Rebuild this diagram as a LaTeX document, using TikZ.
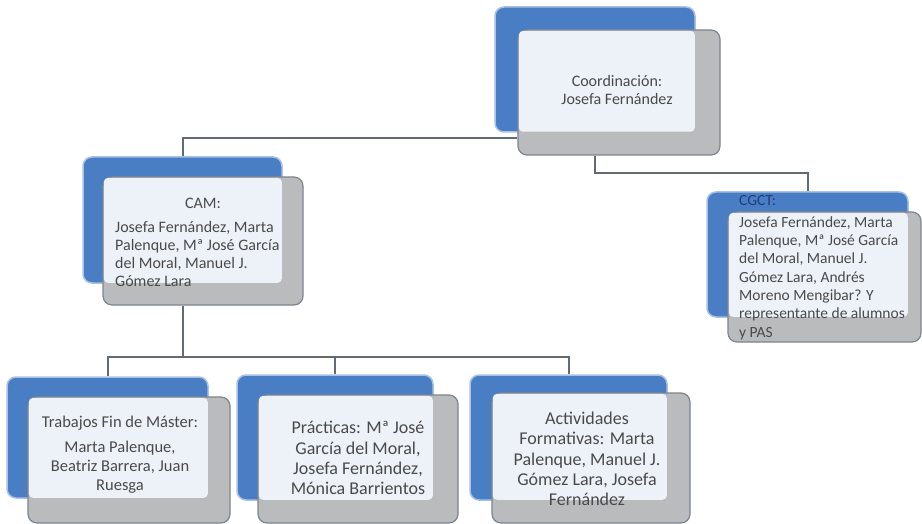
\documentclass[tikz,border=0pt]{standalone}
\usepackage{fontspec}
\setmainfont{Carlito}
\usetikzlibrary{fit}
\definecolor{unitblue}{HTML}{4A7EC4}
\definecolor{bluerim}{HTML}{A9C1E6}
\definecolor{unitgray}{HTML}{BABBBD}
\definecolor{grayrim}{HTML}{7D8590}
\definecolor{unitlight}{HTML}{EDF1F8}
\definecolor{conncol}{HTML}{646A72}
\definecolor{txtcol}{HTML}{4A4A4A}
\definecolor{titleblue}{HTML}{1F3D7A}
\newcommand\orgunit[9]{%
  \node[fit={(#2,#3) (#4,#5)}, inner sep=0pt, bluebox] (#1B) {};
  \node[fit={(#6,#7) (#8,#9)}, inner sep=0pt, graybox] (#1G) {};
  \fill[unitlight, rounded corners=4pt] ([shift={(1.5,1.5)}]#1G.north west) rectangle ([shift={(-1,-1)}]#1B.south east);
}
\begin{document}
\begin{tikzpicture}[x=1pt, y=-1pt,
  bluebox/.style={fill=unitblue, draw=bluerim, line width=1.5pt, rounded corners=9pt},
  graybox/.style={fill=unitgray, draw=grayrim, line width=1.2pt, rounded corners=9pt},
  conn/.style={draw=conncol, line width=2pt},
  txt/.style={text=txtcol, inner sep=0pt},
  f16/.style={font=\fontsize{16}{18}\selectfont},
  f155/.style={font=\fontsize{15.5}{18.3}\selectfont},
  f165/.style={font=\fontsize{16.5}{19}\selectfont},
  f18/.style={font=\fontsize{18}{20.3}\selectfont}]
\useasboundingbox[fill=white] (0,0) rectangle (922,524);

\path (0,138) coordinate (hA) (0,173) coordinate (hB) (0,357) coordinate (hC);

\orgunit{top}{495}{7}{695}{132}{518}{30}{720}{155}
\orgunit{cam}{83}{157}{282}{283}{103}{177}{303}{305}
\orgunit{cg}{707}{192}{908}{317}{728}{212}{921}{342}
\orgunit{tfm}{7}{377}{208}{498}{28}{397}{230}{523}
\orgunit{pra}{237}{375}{433}{500}{258}{395}{458}{523}
\orgunit{act}{470}{375}{667}{500}{492}{393}{690}{523}

\draw[conn] (topG.west |- hA) -| (camB.north);
\draw[conn] (topB.south |- topG.south) -- (topB.south |- hB) -| (cgB.north);
\draw[conn] (camB.south |- camG.south) -- (camB.south |- hC) -| (tfmB.north);
\draw[conn] (camB.south |- hC) -| (praB.north);
\draw[conn] (camB.south |- hC) -| (actB.north);

% texts
\node[txt, f16, align=center] (topT) at (617,90) {Coordinación:\\Josefa Fernández};

\node[txt, f16] (camT) at (203,203) {CAM:};
\node[txt, f16, align=left, anchor=west] (camX) at (115,254) {Josefa Fernández, Marta\\Palenque, Mª José García\\del Moral, Manuel J.\\Gómez Lara};

\node[txt, f155, text=titleblue, anchor=west] (cgT) at (739,201) {CGCT:};
\node[txt, f155, align=left, anchor=west] (cgX) at (739,278) {Josefa Fernández, Marta\\Palenque, Mª José García\\del Moral, Manuel J.\\Gómez Lara, Andrés\\Moreno Mengibar? Y\\representante de alumnos\\y PAS};

\node[txt, f165] (tfmT) at (120,423) {Trabajos Fin de Máster:};
\node[txt, f165, align=center] (tfmX) at (120,467) {Marta Palenque,\\Beatriz Barrera, Juan\\Ruesga};

\node[txt, f18, align=center] (praX) at (358,458) {Prácticas: Mª José\\García del Moral,\\Josefa Fernández,\\Mónica Barrientos};

\node[txt, f18, align=center] (actX) at (587,459) {Actividades\\Formativas: Marta\\Palenque, Manuel J.\\Gómez Lara, Josefa\\Fernández};
\end{tikzpicture}
\end{document}
